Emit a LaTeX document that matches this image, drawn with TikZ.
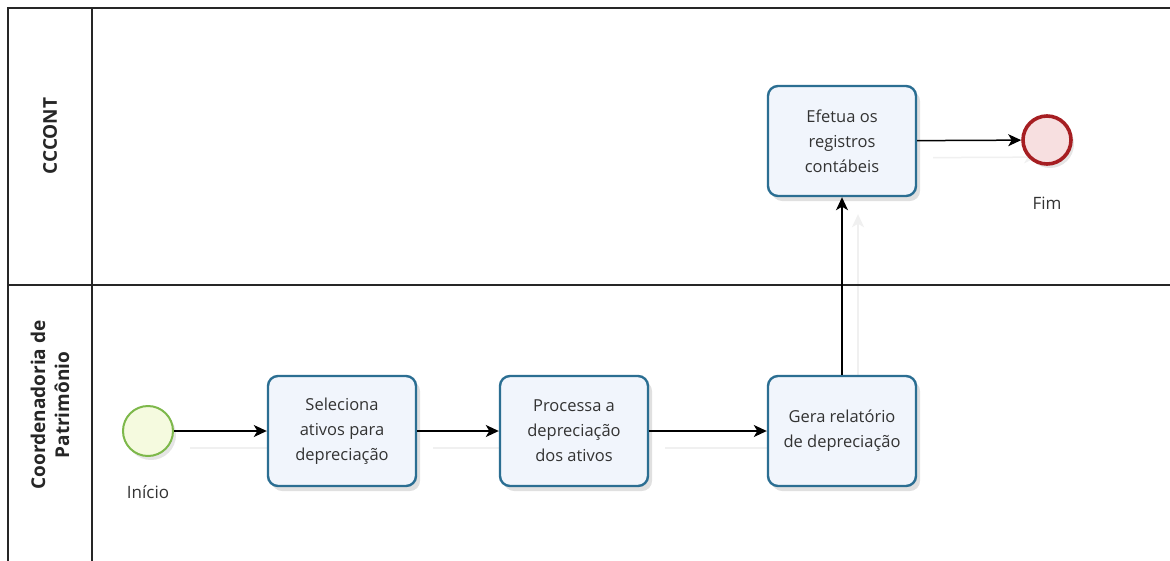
\documentclass[tikz,border=0pt]{standalone}
\usepackage{fontspec}
\setmainfont{Open Sans}
\usetikzlibrary{arrows.meta,shadows}
\definecolor{taskborder}{HTML}{2B6E92}
\definecolor{taskfill}{HTML}{F1F5FC}
\definecolor{startborder}{HTML}{7DB84A}
\definecolor{startfill}{HTML}{F5FADF}
\definecolor{endborder}{HTML}{A61E22}
\definecolor{endfill}{HTML}{F7DFE0}
\definecolor{txt}{HTML}{333333}
\pgfdeclarelayer{bg}
\pgfsetlayers{bg,main}
\tikzset{
  pool/.style={line width=1.3pt, draw=black!85},
  lanelabel/.style={rotate=90, font=\bfseries\fontsize{19}{24}\selectfont, align=center, text=black!85},
  task/.style={draw=taskborder, line width=2.4pt, fill=taskfill, rounded corners=10pt,
    minimum width=148pt, minimum height=110pt, align=center, text=txt,
    font=\fontsize{16.5}{25}\selectfont,
    drop shadow={shadow xshift=4pt, shadow yshift=-5pt, opacity=0.12, fill=black}},
  startev/.style={circle, draw=startborder, line width=2pt, fill=startfill, minimum size=50pt,
    drop shadow={shadow xshift=3pt, shadow yshift=-4pt, opacity=0.1, fill=black}},
  endev/.style={circle, draw=endborder, line width=3.6pt, fill=endfill, minimum size=48pt,
    drop shadow={shadow xshift=3pt, shadow yshift=-4pt, opacity=0.1, fill=black}},
  evlabel/.style={text=txt, font=\fontsize{17}{20}\selectfont},
  flow/.style={-{Stealth[length=13pt,width=12pt,inset=3.5pt]}, line width=1.5pt, draw=black},
  flowshadow/.style={-{Stealth[length=13pt,width=12pt,inset=3.5pt]}, line width=1.5pt,
    draw=black!6, transform canvas={shift={(16pt,-17pt)}}},
}
\begin{document}
\begin{tikzpicture}[x=1pt, y=-1pt]
  \useasboundingbox (0,0) rectangle (1170,560);

  % events and tasks
  \node[startev] (start) at (148,431) {};
  \node[evlabel] (startlbl) at (148,492) {Início};
  \node[task] (t1) at (342,431) {Seleciona\\ativos para\\depreciação};
  \node[task] (t2) at (574,431) {Processa a\\depreciação\\dos ativos};
  \node[task] (t3) at (842,431) {Gera relatório\\de depreciação};
  \node[task] (t4) at (842,141) {Efetua os\\registros\\contábeis};
  \node[endev] (finish) at (1047,140) {};
  \node[evlabel] (endlbl) at (1047,203) {Fim};

  % page background and faint connector shadows, behind the shapes
  \begin{pgfonlayer}{bg}
    \fill[white] (0,0) rectangle (1170,560);
    \draw[flowshadow] (start) -- (t1);
    \draw[flowshadow] (t1) -- (t2);
    \draw[flowshadow] (t2) -- (t3);
    \draw[flowshadow] (t3) -- (t4);
    \draw[flowshadow] (t4) -- (finish);
  \end{pgfonlayer}

  % pool and lanes
  \draw[pool] (1172,8) -- (8,8) -- (8,562);
  \draw[pool] (92,8) -- (92,562);
  \draw[pool] (8,285) -- (1172,285);
  \node[lanelabel] (lane1) at (50,136) {CCCONT};
  \node[lanelabel] (lane2) at (50,405) {Coordenadoria de\\Patrimônio};

  % sequence flows
  \draw[flow] (start) -- (t1);
  \draw[flow] (t1) -- (t2);
  \draw[flow] (t2) -- (t3);
  \draw[flow] (t3) -- (t4);
  \draw[flow] (t4) -- (finish);
\end{tikzpicture}
\end{document}
